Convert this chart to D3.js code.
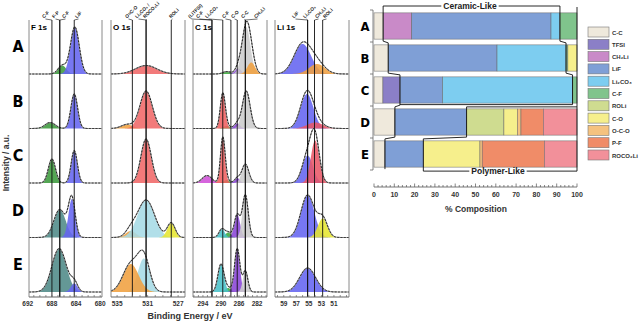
<!DOCTYPE html>
<html>
<head>
<meta charset="utf-8">
<script src="https://cdn.jsdelivr.net/npm/d3@7"></script>
<style>
  body { margin: 0; background: #fff; }
  svg { font-family: "Liberation Sans", Arial, sans-serif; font-weight: bold; }
  .row-label { font-family: "Liberation Sans Narrow", "DejaVu Sans Condensed", sans-serif; }
</style>
</head>
<body>
<svg id="fig" width="640" height="321"></svg>
<script>
const rows = ["A", "B", "C", "D", "E"];

// XPS fit components: [row, centre eV, relative height, fwhm eV, component]
const f1sPeaks = [
  ["A", 686.3, 0.17, 1.6, "C-F"], ["A", 684.2, 0.94, 1.7, "LiF"],
  ["B", 688.3, 0.12, 2.0, "C-F"], ["B", 684.3, 0.69, 1.3, "LiF"],
  ["C", 688.0, 0.48, 1.4, "C-F"], ["C", 684.3, 0.65, 1.2, "LiF"],
  ["D", 686.7, 0.56, 2.3, "P-F"], ["D", 684.7, 0.77, 1.3, "LiF"],
  ["E", 686.8, 0.87, 2.8, "P-F"], ["E", 684.3, 0.17, 1.3, "LiF"]
];
const o1sPeaks = [
  ["A", 531.2, 0.17, 3.3, "ROCO2Li"],
  ["B", 533.7, 0.08, 1.8, "O=C-O"], ["B", 531.2, 0.75, 1.9, "ROCO2Li"],
  ["C", 531.2, 0.88, 1.6, "ROCO2Li"],
  ["D", 533.2, 0.13, 1.6, "O=C-O"], ["D", 531.2, 0.75, 2.6, "Li2CO3"], ["D", 527.9, 0.29, 1.2, "ROLi"],
  ["E", 531.5, 0.67, 1.8, "Li2CO3"], ["E", 533.2, 0.56, 2.4, "O=C-O"]
];
const c1sPeaks = [
  ["A", 288.7, 0.05, 2.0, "C-F"], ["A", 286.2, 0.11, 1.6, "C-O"], ["A", 284.4, 0.94, 2.2, "C-C"], ["A", 283.3, 0.23, 2.0, "CH2Li"],
  ["B", 288.7, 0.05, 1.8, "C-F"], ["B", 286.4, 0.10, 1.5, "C-O"], ["B", 289.6, 0.69, 1.3, "Li2CO3"], ["B", 284.4, 0.75, 2.0, "C-C"],
  ["C", 293.1, 0.15, 2.5, "TFSI"], ["C", 288.7, 0.06, 1.5, "C-F"], ["C", 286.4, 0.10, 1.4, "C-O"], ["C", 289.6, 0.90, 1.2, "Li2CO3"], ["C", 284.6, 0.38, 1.8, "C-C"],
  ["D", 288.4, 0.10, 1.5, "C-F"], ["D", 289.8, 0.17, 1.5, "ROCO2Li"], ["D", 286.4, 0.46, 1.5, "C-O"], ["D", 284.6, 0.85, 1.5, "C-C"],
  ["E", 288.4, 0.08, 1.5, "C-F"], ["E", 290.0, 0.56, 1.6, "ROCO2Li"], ["E", 286.4, 0.87, 1.4, "C-O"], ["E", 284.6, 0.42, 1.3, "C-C"]
];
const li1sPeaks = [
  ["A", 56.0, 0.60, 3.2, "LiF"], ["A", 53.7, 0.20, 3.0, "CH2Li"],
  ["B", 55.3, 0.69, 2.4, "LiF"], ["B", 54.0, 0.12, 3.0, "Li2CO3"],
  ["C", 55.2, 0.55, 2.0, "LiF"], ["C", 54.0, 0.85, 1.6, "Li2CO3"],
  ["D", 55.2, 0.85, 2.5, "LiF"], ["D", 52.8, 0.38, 1.8, "ROLi"],
  ["E", 55.2, 0.48, 3.0, "LiF"]
];

// reference lines: [label, energy, label x]
const f1sRefs = [["C-F", 688.0, 44], ["F-P", 686.7, 54], ["C-F", 686.7, 64], ["LiF", 684.3, 77]];
const o1sRefs = [["O=C-O", 533.0, 127], ["Li\u2082CO\u2083 /", 531.2, 137], ["ROCO\u2082Li", 531.2, 145], ["ROLi", 527.9, 171]];
const c1sRefs = [["(LiTFSI)", 292.0, 190], ["C-F", 292.0, 198], ["Li\u2082CO\u2083", 289.6, 207], ["C-F", 287.8, 224],
                 ["C-O", 286.4, 233], ["C-C", 284.6, 243], ["CH\u2082Li", 284.6, 256]];
const li1sRefs = [["LiF", 55.2, 294], ["Li\u2082CO\u2083", 55.2, 305], ["CH\u2082Li", 54.1, 317], ["ROLi", 52.8, 325]];

const f1sTicks = [692, 688, 684, 680];
const o1sTicks = [535, 531, 527];
const c1sTicks = [294, 290, 286, 282];
const li1sTicks = [59, 57, 55, 53, 51];

// % composition
const compKeys = ["C-C", "TFSI", "CH2Li", "LiF", "Li2CO3", "C-F", "ROLi", "C-O", "O-C-O", "P-F", "ROCO2Li"];
const compLabels = ["C-C", "TFSI", "CH\u2082Li", "LiF", "Li\u2082CO\u2083", "C-F", "ROLi", "C-O", "O-C-O", "P-F", "ROCO\u2082Li"];
const ccVals      = [4.5, 7.0, 4.4, 10.3, 5.4];
const tfsiVals    = [0, 0, 8.4, 0, 0];
const ch2liVals   = [14.1, 0, 0, 0, 0];
const lifVals     = [68.6, 53.6, 21.0, 35.3, 18.9];
const li2co3Vals  = [4.4, 34.0, 64.0, 0, 0];
const cfVals      = [8.4, 0.9, 2.2, 0, 0];
const roliVals    = [0, 0, 0, 18.4, 0];
const coVals      = [0, 4.5, 0, 6.6, 27.9];
const ocoVals     = [0, 0, 0, 1.8, 1.1];
const pfVals      = [0, 0, 0, 11.0, 30.6];
const roco2liVals = [0, 0, 0, 16.6, 16.1];
const compTicks = d3.range(0, 101, 10);

const barColors = ["#efe9dc", "#8b7fc7", "#c98ac8", "#7f9fd6", "#7dcdf0", "#80c48c",
                   "#cfdc90", "#f6ef8c", "#f5c27f", "#f08c68", "#f2909a"];

const svg = d3.select("#fig");

// ---------- XPS panels ----------
const panels = [
  { title: "F 1s", peaks: f1sPeaks, refs: f1sRefs, ticks: f1sTicks, domain: [691.8, 679.7], range: [29, 102],
    colors: { "LiF": "#6464f0", "C-F": "#3c9a3c", "P-F": "#4e8a88" } },
  { title: "O 1s", peaks: o1sPeaks, refs: o1sRefs, ticks: o1sTicks, domain: [535.8, 526.1], range: [111, 185],
    colors: { "ROCO2Li": "#f06868", "O=C-O": "#f0a040", "Li2CO3": "#a6dbe6", "ROLi": "#e6e630" } },
  { title: "C 1s", peaks: c1sPeaks, refs: c1sRefs, ticks: c1sTicks, domain: [296.2, 279.8], range: [193, 267],
    colors: { "C-C": "#cccccc", "CH2Li": "#f0a040", "C-O": "#8a44d8", "C-F": "#3caa3c",
              "Li2CO3": "#f06060", "TFSI": "#d050d8", "ROCO2Li": "#48c0c8" } },
  { title: "Li 1s", peaks: li1sPeaks, refs: li1sRefs, ticks: li1sTicks, domain: [60.4, 48.6], range: [275, 349],
    colors: { "LiF": "#6464f0", "CH2Li": "#f0a040", "Li2CO3": "#e85868", "ROLi": "#e6e630" } }
];

const baseY = i => 74 + 54.5 * i;
const rowH = 50;
const panelTop = 20, axisY = 297, labelY = 18.5;
const gauss = (e, c, h, w) => h * Math.exp(-4 * Math.LN2 * (e - c) * (e - c) / (w * w));

panels.forEach(p => {
  const x = d3.scaleLinear().domain(p.domain).range(p.range);
  const g = svg.append("g");
  const es = d3.range(0, 161).map(k => p.domain[0] + (p.domain[1] - p.domain[0]) * k / 160);

  rows.forEach((r, i) => {
    const y = d3.scaleLinear().domain([0, 1]).range([baseY(i), baseY(i) - rowH]);
    const comps = p.peaks.filter(d => d[0] === r);
    comps.forEach(c => {
      g.append("path")
        .attr("d", d3.area().x(e => x(e)).y0(y(0)).y1(e => y(gauss(e, c[1], c[2], c[3])))(es))
        .attr("fill", p.colors[c[4]])
        .attr("fill-opacity", 0.88);
    });
    const env = e => d3.sum(comps, c => gauss(e, c[1], c[2], c[3]));
    const line = d3.line().x(e => x(e)).y(e => y(env(e)));
    g.append("path").attr("d", line(es)).attr("fill", "none")
      .attr("stroke", "#9a9a9a").attr("stroke-width", 1.2);
    g.append("path").attr("d", line(es)).attr("fill", "none")
      .attr("stroke", "#111").attr("stroke-width", 0.9).attr("stroke-dasharray", "2,1.3");
  });

  // frame
  g.selectAll(".frame").data(p.range).join("line")
    .attr("x1", d => d).attr("x2", d => d).attr("y1", panelTop).attr("y2", axisY)
    .attr("stroke", "#8a8a8a").attr("stroke-width", 1);

  // reference lines and labels
  p.refs.forEach(rf => {
    const xe = x(rf[1]);
    g.append("line").attr("x1", xe).attr("x2", xe).attr("y1", panelTop).attr("y2", axisY)
      .attr("stroke", "#111").attr("stroke-width", 0.9);
    g.append("path").attr("d", `M${xe},${panelTop}L${rf[2] + 1.5},${labelY + 0.5}`)
      .attr("fill", "none").attr("stroke", "#111").attr("stroke-width", 0.6);
    g.append("text").attr("transform", `translate(${rf[2]},${labelY}) rotate(-45)`)
      .attr("font-size", 4.8).attr("fill", "#222").text(rf[0]);
  });

  // title
  g.append("text").attr("x", p.range[0] + 2).attr("y", 30).attr("font-size", 8).text(p.title);

  // bottom axis
  g.append("line").attr("x1", p.range[0]).attr("x2", p.range[1]).attr("y1", axisY).attr("y2", axisY)
    .attr("stroke", "#666").attr("stroke-width", 1);
  const minor = d3.range(Math.ceil(p.domain[1]), Math.floor(p.domain[0]) + 1);
  g.selectAll(".mt").data(minor).join("line")
    .attr("x1", d => x(d)).attr("x2", d => x(d)).attr("y1", axisY).attr("y2", axisY - 2)
    .attr("stroke", "#666").attr("stroke-width", 0.7);
  g.selectAll(".tl").data(p.ticks).join("text")
    .attr("x", d => x(d)).attr("y", 306).attr("text-anchor", "middle")
    .attr("font-size", 6.5).attr("fill", "#333").text(d => d);
});

// row labels and axis titles (XPS)
svg.selectAll(".rl").data(rows).join("text").attr("class", "row-label")
  .attr("x", 18).attr("y", (d, i) => baseY(i) - 22).attr("text-anchor", "middle")
  .attr("font-size", 16).text(d => d);
svg.append("text").attr("transform", "translate(9,163) rotate(-90)").attr("text-anchor", "middle")
  .attr("font-size", 8.5).attr("fill", "#333").text("Intensity / a.u.");
svg.append("text").attr("x", 190).attr("y", 319).attr("text-anchor", "middle")
  .attr("font-size", 9).attr("fill", "#333").text("Binding Energy / eV");

// ---------- composition bars ----------
const table = rows.map((r, i) => ({
  row: r, "C-C": ccVals[i], "TFSI": tfsiVals[i], "CH2Li": ch2liVals[i], "LiF": lifVals[i],
  "Li2CO3": li2co3Vals[i], "C-F": cfVals[i], "ROLi": roliVals[i], "C-O": coVals[i],
  "O-C-O": ocoVals[i], "P-F": pfVals[i], "ROCO2Li": roco2liVals[i]
}));
const stacked = d3.stack().keys(compKeys)(table);
const bx = d3.scaleLinear().domain([0, 100]).range([374, 577]);
const by = d3.scaleBand().domain(rows).range([10, 170]).paddingInner(0.18).paddingOuter(0.09);
const bw = by.bandwidth();
const color = d3.scaleOrdinal().domain(compKeys).range(barColors);

const bars = svg.append("g");
stacked.forEach(layer => {
  bars.selectAll(null).data(layer.filter(d => d[1] - d[0] > 0)).join("rect")
    .attr("x", d => bx(d[0])).attr("width", d => bx(d[1]) - bx(d[0]))
    .attr("y", d => by(d.data.row)).attr("height", bw)
    .attr("fill", color(layer.key)).attr("stroke", "#666").attr("stroke-width", 0.5);
});

// left bracket axis
svg.append("line").attr("x1", 373).attr("x2", 373).attr("y1", 10).attr("y2", 170)
  .attr("stroke", "#666").attr("stroke-width", 0.8);
svg.selectAll(".lt").data(d3.range(6)).join("line")
  .attr("x1", 370).attr("x2", 373).attr("y1", d => 10 + 32 * d).attr("y2", d => 10 + 32 * d)
  .attr("stroke", "#666").attr("stroke-width", 0.8);
svg.selectAll(".bl").data(rows).join("text").attr("class", "row-label")
  .attr("x", 365).attr("y", d => by(d) + bw / 2 + 5).attr("text-anchor", "middle")
  .attr("font-size", 13).text(d => d);

// bottom axis
const axG = svg.append("g");
axG.append("line").attr("x1", bx(0)).attr("x2", bx(100)).attr("y1", 187).attr("y2", 187)
  .attr("stroke", "#555").attr("stroke-width", 0.8);
axG.selectAll(".mn").data(d3.range(0, 101, 2)).join("line")
  .attr("x1", d => bx(d)).attr("x2", d => bx(d)).attr("y1", 187)
  .attr("y2", d => d % 10 === 0 ? 183.5 : 185).attr("stroke", "#555").attr("stroke-width", 0.7);
axG.selectAll(".lb").data(compTicks).join("text")
  .attr("x", d => bx(d)).attr("y", 197).attr("text-anchor", "middle")
  .attr("font-size", 7).attr("fill", "#333").text(d => d);
svg.append("text").attr("x", 476).attr("y", 212).attr("text-anchor", "middle")
  .attr("font-size", 8.5).attr("fill", "#333").text("% Composition");

// ceramic / polymer brackets
const ends = key => stacked[compKeys.indexOf(key)].map(d => d[1]);
const leftEdge = ends("TFSI");
const ceramicRight = ends("Li2CO3");
const barTop = r => by(r), barBot = r => by(r) + bw;
const brk = svg.append("g").attr("fill", "none").attr("stroke", "#111").attr("stroke-width", 0.9);

const leftPts = [[bx(leftEdge[0]), 6]];
rows.forEach((r, i) => {
  if (i > 0) leftPts.push([bx(leftEdge[i]), barTop(r) - 2]);
  leftPts.push([bx(leftEdge[i]), barBot(r) + 2]);
});
brk.append("path").attr("d", d3.line()(leftPts));

const cerText = svg.append("text").attr("x", 470).attr("y", 9).attr("text-anchor", "middle")
  .attr("font-size", 8.5).attr("fill", "#222").text("Ceramic-Like");
const cw = cerText.node().getComputedTextLength();
brk.append("path").attr("d", d3.line()([[bx(leftEdge[0]), 6], [470 - cw / 2 - 2, 6]]));
const cerPts = [[470 + cw / 2 + 2, 6], [bx(ceramicRight[0]), 6]];
rows.slice(0, 3).forEach((r, i) => {
  if (i > 0) cerPts.push([bx(ceramicRight[i]), barTop(r) - 2]);
  cerPts.push([bx(ceramicRight[i]), barBot(r) + (i < 2 ? 2 : 1.5)]);
});
cerPts.push([bx(leftEdge[2]), barBot("C") + 1.5]);
brk.append("path").attr("d", d3.line()(cerPts));

const polyY = barBot("E") + 4;
const polText = svg.append("text").attr("x", 498).attr("y", polyY + 3).attr("text-anchor", "middle")
  .attr("font-size", 8.5).attr("fill", "#222").text("Polymer-Like");
const pw = polText.node().getComputedTextLength();
const polyPts = [[bx(100), barTop("D") - 2], [bx(ceramicRight[3]), barTop("D") - 2],
  [bx(ceramicRight[3]), barBot("D") + 2], [bx(ceramicRight[4]), barTop("E") - 2],
  [bx(ceramicRight[4]), polyY], [498 - pw / 2 - 2, polyY]];
brk.append("path").attr("d", d3.line()(polyPts));
brk.append("path").attr("d", d3.line()([[498 + pw / 2 + 2, polyY], [bx(100), polyY]]));
brk.append("line").attr("x1", bx(100)).attr("x2", bx(100)).attr("y1", 7).attr("y2", polyY);

// legend
const lg = svg.append("g");
compKeys.forEach((k, i) => {
  const yy = 27 + i * 12.3;
  lg.append("rect").attr("x", 588).attr("y", yy).attr("width", 21).attr("height", 10)
    .attr("fill", barColors[i]).attr("stroke", "#777").attr("stroke-width", 0.6);
  lg.append("text").attr("x", 612).attr("y", yy + 7.5).attr("font-size", 6)
    .attr("fill", "#333").text(compLabels[i]);
});
</script>
</body>
</html>
